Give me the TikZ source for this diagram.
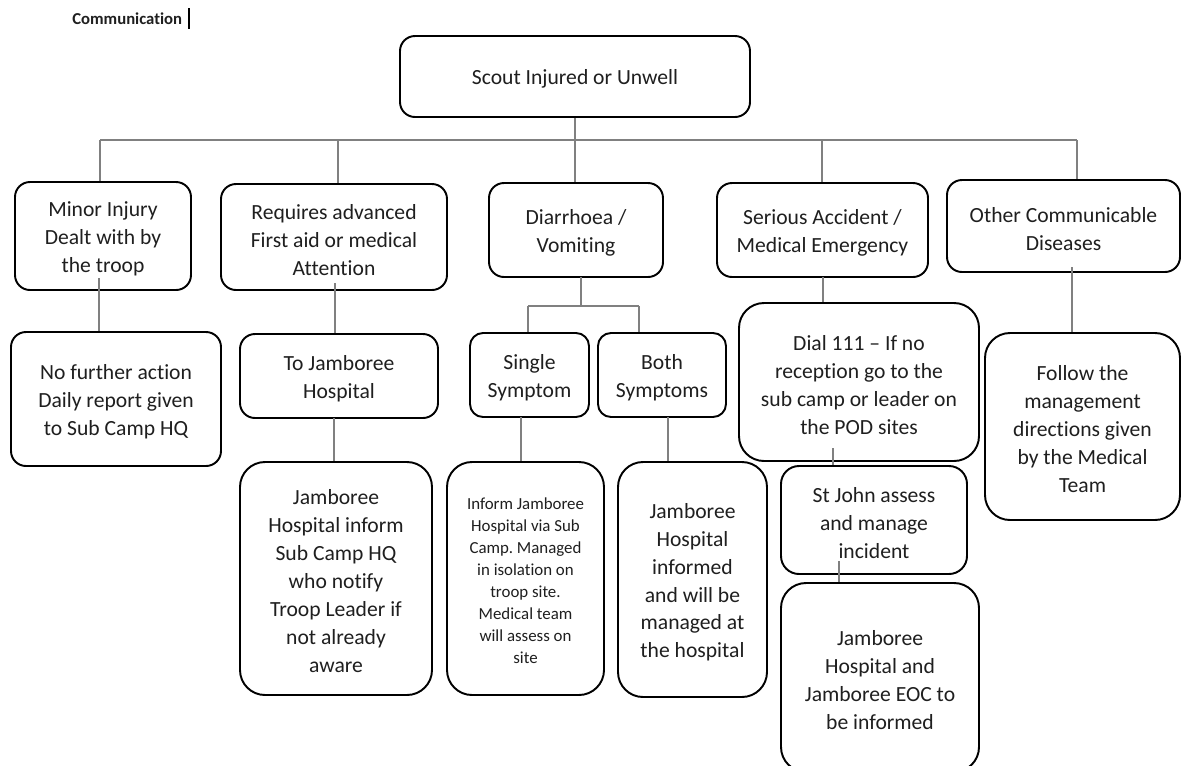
\documentclass[tikz,border=0pt]{standalone}
\usepackage{fontspec}
\setmainfont{Carlito}[Ligatures={NoCommon}]
\usetikzlibrary{calc}
\frenchspacing
\tikzset{
  box/.style={draw=black, line width=1.1pt, rounded corners=0.3cm, inner sep=0pt,
    align=center, font=\fontsize{12.3}{15.9}\selectfont, text=black!88},
  bigr/.style={rounded corners=0.5cm},
  small/.style={font=\fontsize{9.6}{12.5}\selectfont},
  link/.style={draw=black!50, line width=0.6pt},
}
\newcommand\mkbox[7][]{\node[box,#1,minimum width={(#5-#3)*0.02cm},minimum height={(#6-#4)*0.02cm}] (#2) at ({(#3+#5)/2},{(#4+#6)/2}) {\rule{0pt}{0.95em}#7};}
\begin{document}
\begin{tikzpicture}[x=0.02cm,y=-0.02cm]
\useasboundingbox (0,0) rectangle (1181,765);
\clip (0,0) rectangle (1181,765);
\fill[white] (0,0) rectangle (1181,765);

% title and cursor
\node[anchor=west, inner sep=0pt, font=\fontsize{9.5}{11}\selectfont\bfseries, text=black!88] (title) at (72,19) {Communication};
\coordinate (cura) at (189,8);
\coordinate (curb) at (189,29);
\draw[line width=0.6pt] (cura) -- (curb);

% boxes
\mkbox{top}{400}{36}{750}{117}{Scout Injured or Unwell}
\mkbox{minor}{15}{182}{191}{290}{Minor Injury\\Dealt with by\\the troop}
\mkbox{req}{221}{184}{447}{290}{Requires advanced\\First aid or medical\\Attention}
\mkbox{diar}{489}{183}{663}{277}{Diarrhoea /\\Vomiting}
\mkbox{serious}{717}{183}{928}{277}{Serious Accident /\\Medical Emergency}
\mkbox{other}{947}{180}{1180}{272}{Other Communicable\\Diseases}
\mkbox{nof}{11}{332}{221}{466}{No further action\\Daily report given\\to Sub Camp HQ}
\mkbox{tojamb}{240}{334}{438}{418}{To Jamboree\\Hospital}
\mkbox[bigr]{jinform}{240}{462}{432}{695}{Jamboree\\Hospital inform\\Sub Camp HQ\\who notify\\Troop Leader if\\not already\\aware}
\mkbox[rounded corners=0.26cm]{single}{470}{333}{589}{417}{Single\\Symptom}
\mkbox[rounded corners=0.26cm]{both}{598}{333}{726}{417}{Both\\Symptoms}
\mkbox[bigr,small]{inform}{447}{462}{604}{695}{Inform Jamboree\\Hospital via Sub\\Camp. Managed\\in isolation on\\troop site.\\Medical team\\will assess on\\site}
\mkbox[bigr]{jhinf}{618}{462}{767}{697}{Jamboree\\Hospital\\informed\\and will be\\managed at\\the hospital}
\mkbox[bigr]{dial}{739}{303}{979}{461}{Dial 111 -- If no\\reception go to the\\sub camp or leader on\\the POD sites}
\mkbox[rounded corners=0.36cm]{stjohn}{781}{466}{967}{574}{St John assess\\and manage\\incident}
\mkbox[bigr]{eoc}{781}{583}{979}{772}{Jamboree\\Hospital and\\Jamboree EOC to\\be informed}
\mkbox[bigr]{follow}{985}{333}{1180}{520}{Follow the\\management\\directions given\\by the Medical\\Team}

% connectors
\coordinate (busL) at (100,140);
\coordinate (busR) at (1077,140);
\coordinate (bus2) at (338,140);
\coordinate (bus4) at (822,140);
\draw[link] (busL) -- (busR);
\draw[link] (top.south) -- (top.south |- diar.north);
\draw[link] (busL) -- (busL |- minor.north);
\draw[link] (bus2) -- (bus2 |- req.north);
\draw[link] (bus4) -- (bus4 |- serious.north);
\draw[link] (busR) -- (busR |- other.north);

\coordinate (m1) at (99,278);
\draw[link] (m1) -- (m1 |- nof.north);
\coordinate (r1) at (335,283);
\draw[link] (r1) -- (r1 |- tojamb.north);
\coordinate (t1) at (334,418);
\draw[link] (t1) -- (t1 |- jinform.north);

\coordinate (d1) at (581,277);
\coordinate (d2) at (581,306);
\coordinate (sL) at (528,306);
\coordinate (sR) at (639,306);
\draw[link] (d1) -- (d2);
\draw[link] (sL) -- (sR);
\draw[link] (sL) -- (sL |- single.north);
\draw[link] (sR) -- (sR |- both.north);
\coordinate (s1) at (521,417);
\draw[link] (s1) -- (s1 |- inform.north);
\coordinate (bo1) at (668,417);
\draw[link] (bo1) -- (bo1 |- jhinf.north);

\coordinate (se1) at (823,277);
\draw[link] (se1) -- (se1 |- dial.north);
\coordinate (di1) at (833,448);
\draw[link] (di1) -- (di1 |- stjohn.north);
\coordinate (sj1) at (839,561);
\draw[link] (sj1) -- (sj1 |- eoc.north);
\coordinate (o1) at (1072,267);
\draw[link] (o1) -- (o1 |- follow.north);
\end{tikzpicture}
\end{document}
